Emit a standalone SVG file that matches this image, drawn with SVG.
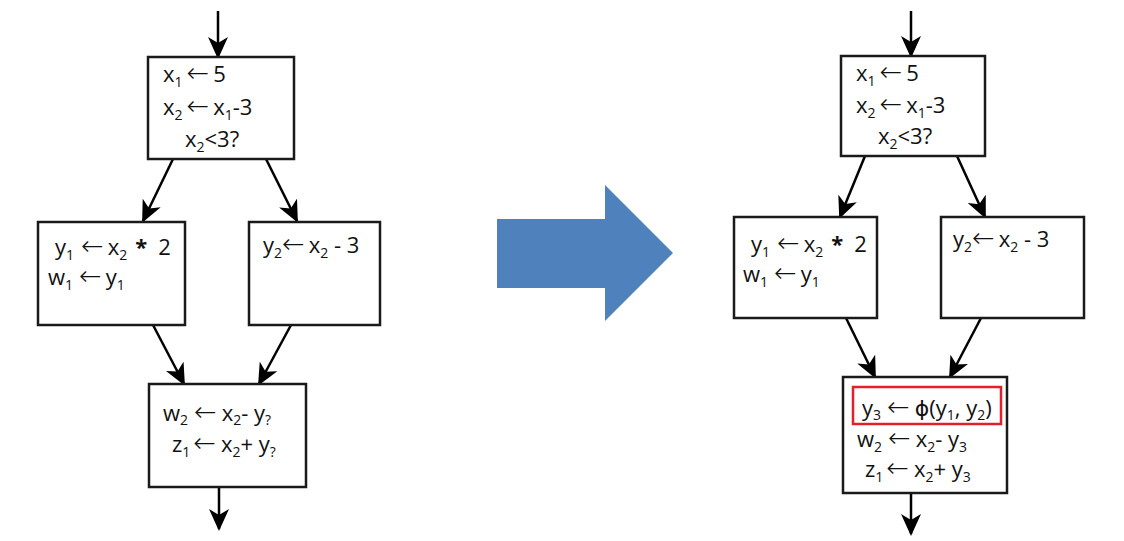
<svg xmlns="http://www.w3.org/2000/svg" width="1124" height="541" viewBox="0 0 1124 541">
<defs>
<style>
.box{fill:#fff;stroke:#1a1a1a;stroke-width:2.5}
.edge{stroke:#000;stroke-width:2.5;fill:none;marker-end:url(#ah)}
text{font-family:"Open Sans","DejaVu Sans",sans-serif;font-size:22px;fill:#111}
.s{font-size:14px}
.a{font-family:"DejaVu Sans",sans-serif;font-size:27px;font-weight:200}
.hl{fill:none;stroke:#e3202a;stroke-width:2.5}
</style>
<marker id="ah" viewBox="0 0 22 20" refX="20" refY="10" markerWidth="22" markerHeight="20" markerUnits="userSpaceOnUse" orient="auto">
<path d="M0,0 L22,10 L0,20 L6,10 z" fill="#000"/>
</marker>
</defs>
<rect width="1124" height="541" fill="#fff"/>

<g id="connectors">
<line class="edge" x1="218" y1="11" x2="218" y2="57"/>
<line class="edge" x1="173" y1="159" x2="143" y2="221"/>
<line class="edge" x1="266" y1="159" x2="297" y2="221"/>
<line class="edge" x1="153" y1="325" x2="184" y2="384"/>
<line class="edge" x1="291" y1="325" x2="259" y2="384"/>
<line class="edge" x1="219" y1="487" x2="219" y2="529"/>

<line class="edge" x1="911" y1="11" x2="911" y2="56"/>
<line class="edge" x1="865" y1="156" x2="840" y2="217"/>
<line class="edge" x1="957" y1="156" x2="985" y2="217"/>
<line class="edge" x1="846" y1="318" x2="875" y2="377"/>
<line class="edge" x1="981" y1="318" x2="950" y2="377"/>
<line class="edge" x1="911" y1="493" x2="911" y2="534"/>
</g>

<g id="L_entry">
<rect class="box" x="148" y="57" width="146" height="102"/>
<text x="163" y="82">x<tspan class="s" dy="5">1</tspan><tspan class="a" dy="-5" dx="4">←</tspan><tspan dx="4">5</tspan></text>
<text x="163" y="115">x<tspan class="s" dy="5">2</tspan><tspan class="a" dy="-5" dx="4">←</tspan><tspan dx="4">x</tspan><tspan class="s" dy="5">1</tspan><tspan dy="-5">-3</tspan></text>
<text x="185" y="147">x<tspan class="s" dy="5">2</tspan><tspan dy="-5">&lt;3?</tspan></text>
</g>

<g id="L_then">
<rect class="box" x="38" y="222" width="147" height="103"/>
<text x="55" y="255">y<tspan class="s" dy="5">1</tspan><tspan class="a" dy="-5" dx="7">←</tspan><tspan dx="4">x</tspan><tspan class="s" dy="5">2</tspan><tspan dy="-5" dx="8" font-weight="bold">*</tspan><tspan dx="11">2</tspan></text>
<text x="48" y="285">w<tspan class="s" dy="5">1</tspan><tspan class="a" dy="-5" dx="6">←</tspan><tspan dx="4">y</tspan><tspan class="s" dy="5">1</tspan></text>
</g>

<g id="L_else">
<rect class="box" x="249" y="222" width="131" height="103"/>
<text x="263" y="253">y<tspan class="s" dy="5">2</tspan><tspan class="a" dy="-5">←</tspan><tspan dx="4">x</tspan><tspan class="s" dy="5">2</tspan><tspan dy="-5"> - 3</tspan></text>
</g>

<g id="L_join">
<rect class="box" x="149" y="384" width="157" height="103"/>
<text x="163" y="421">w<tspan class="s" dy="4">2</tspan><tspan class="a" dy="-4" dx="6">←</tspan><tspan dx="5">x</tspan><tspan class="s" dy="4">2</tspan><tspan dy="-4">- y</tspan><tspan class="s" dy="4">?</tspan></text>
<text x="172" y="452">z<tspan class="s" dy="5">1</tspan><tspan class="a" dy="-5" dx="3">←</tspan><tspan dx="5">x</tspan><tspan class="s" dy="5">2</tspan><tspan dy="-5">+ y</tspan><tspan class="s" dy="5">?</tspan></text>
</g>

<g id="transform_arrow">
<path d="M497,219 L605,219 L605,185 L673,253 L605,321 L605,288 L497,288 z" fill="#4f81bd"/>
</g>

<g id="R_entry">
<rect class="box" x="841" y="56" width="144" height="100"/>
<text x="856" y="81">x<tspan class="s" dy="5">1</tspan><tspan class="a" dy="-5" dx="4">←</tspan><tspan dx="4">5</tspan></text>
<text x="856" y="113">x<tspan class="s" dy="5">2</tspan><tspan class="a" dy="-5" dx="4">←</tspan><tspan dx="4">x</tspan><tspan class="s" dy="5">1</tspan><tspan dy="-5">-3</tspan></text>
<text x="878" y="144">x<tspan class="s" dy="5">2</tspan><tspan dy="-5">&lt;3?</tspan></text>
</g>

<g id="R_then">
<rect class="box" x="734" y="217" width="143" height="101"/>
<text x="751" y="252">y<tspan class="s" dy="5">1</tspan><tspan class="a" dy="-5" dx="7">←</tspan><tspan dx="4">x</tspan><tspan class="s" dy="5">2</tspan><tspan dy="-5" dx="8" font-weight="bold">*</tspan><tspan dx="11">2</tspan></text>
<text x="743" y="282">w<tspan class="s" dy="5">1</tspan><tspan class="a" dy="-5" dx="6">←</tspan><tspan dx="4">y</tspan><tspan class="s" dy="5">1</tspan></text>
</g>

<g id="R_else">
<rect class="box" x="941" y="217" width="143" height="101"/>
<text x="953" y="247">y<tspan class="s" dy="5">2</tspan><tspan class="a" dy="-5">←</tspan><tspan dx="4">x</tspan><tspan class="s" dy="5">2</tspan><tspan dy="-5"> - 3</tspan></text>
</g>

<g id="R_join">
<rect class="box" x="843" y="377" width="164" height="116"/>
<rect class="hl" x="853" y="387" width="148" height="37"/>
<text x="862" y="416">y<tspan class="s" dy="4">3</tspan><tspan class="a" dy="-4" dx="6">←</tspan><tspan dx="5">ϕ(y</tspan><tspan class="s" dy="4">1</tspan><tspan dy="-4">, y</tspan><tspan class="s" dy="4">2</tspan><tspan dy="-4">)</tspan></text>
<text x="857" y="447">w<tspan class="s" dy="5">2</tspan><tspan class="a" dy="-5" dx="6">←</tspan><tspan dx="5">x</tspan><tspan class="s" dy="5">2</tspan><tspan dy="-5">- y</tspan><tspan class="s" dy="5">3</tspan></text>
<text x="865" y="477">z<tspan class="s" dy="5">1</tspan><tspan class="a" dy="-5" dx="3">←</tspan><tspan dx="5">x</tspan><tspan class="s" dy="5">2</tspan><tspan dy="-5">+ y</tspan><tspan class="s" dy="5">3</tspan></text>
</g>
</svg>
